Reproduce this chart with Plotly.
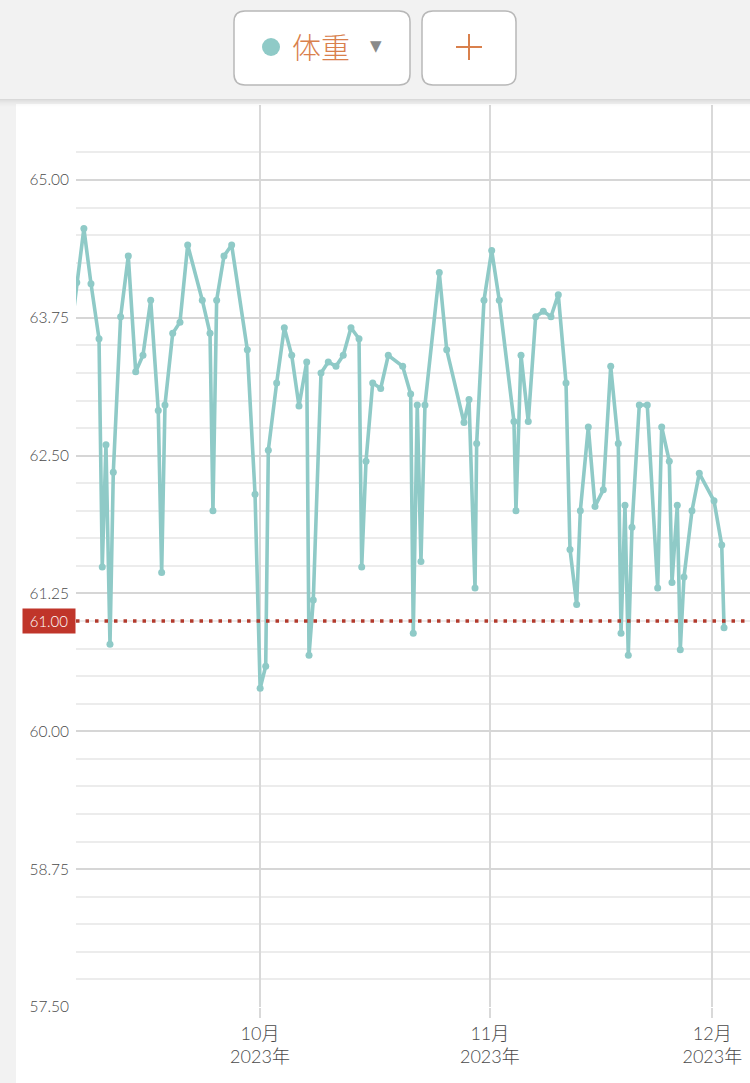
import plotly.graph_objects as go

# ---- data ----
times = [
    "2023-09-05 07:00",
    "2023-09-06 07:00", "2023-09-07 06:00", "2023-09-08 05:00", "2023-09-09 07:00",
    "2023-09-09 17:30", "2023-09-10 05:30", "2023-09-10 18:30", "2023-09-11 05:15",
    "2023-09-12 05:00", "2023-09-13 05:45", "2023-09-14 05:45", "2023-09-15 05:15",
    "2023-09-16 06:15", "2023-09-17 06:45", "2023-09-17 17:45", "2023-09-18 04:30",
    "2023-09-19 05:30", "2023-09-20 05:00", "2023-09-21 06:00", "2023-09-23 05:15",
    "2023-09-24 06:15", "2023-09-24 15:45", "2023-09-25 03:45", "2023-09-26 03:30",
    "2023-09-27 04:20", "2023-09-29 07:00", "2023-09-30 08:00", "2023-10-01 00:30",
    "2023-10-01 18:30", "2023-10-02 03:00",
    "2023-10-03 06:00", "2023-10-04 06:45", "2023-10-05 06:45", "2023-10-06 06:15",
    "2023-10-07 07:15", "2023-10-07 14:40", "2023-10-08 04:30", "2023-10-09 05:30",
    "2023-10-10 05:00", "2023-10-11 06:00", "2023-10-12 05:30", "2023-10-13 06:30",
    "2023-10-14 08:30", "2023-10-14 17:15", "2023-10-15 07:10", "2023-10-16 04:50",
    "2023-10-17 06:40", "2023-10-18 07:15", "2023-10-20 05:50", "2023-10-21 07:40",
    "2023-10-21 16:05", "2023-10-22 05:00", "2023-10-22 17:00", "2023-10-23 06:00",
    "2023-10-25 04:20", "2023-10-26 04:20", "2023-10-28 12:15", "2023-10-29 04:30",
    "2023-10-30 00:00", "2023-10-30 05:20", "2023-10-31 05:00", "2023-11-01 06:00",
    "2023-11-02 06:30",
    "2023-11-04 06:00", "2023-11-04 12:30", "2023-11-05 04:50", "2023-11-06 04:20",
    "2023-11-07 04:20", "2023-11-08 05:00", "2023-11-09 05:50", "2023-11-10 05:30",
    "2023-11-11 06:30", "2023-11-11 19:25", "2023-11-12 17:00", "2023-11-13 04:50",
    "2023-11-14 06:40", "2023-11-15 04:20", "2023-11-16 07:10", "2023-11-17 07:10",
    "2023-11-18 07:40", "2023-11-18 16:30", "2023-11-19 05:20", "2023-11-19 16:00",
    "2023-11-20 04:00", "2023-11-21 03:40", "2023-11-22 05:30", "2023-11-23 15:10",
    "2023-11-24 04:10", "2023-11-25 04:50", "2023-11-25 13:30", "2023-11-26 06:40",
    "2023-11-26 16:20", "2023-11-27 04:20", "2023-11-28 06:15", "2023-11-29 05:50",
    "2023-12-01 05:30", "2023-12-02 06:30", "2023-12-02 14:00",
]
weights = [
    63.50,
    64.07, 64.56, 64.06, 63.56,
    61.49, 62.60, 60.79, 62.35,
    63.76, 64.31, 63.26, 63.41,
    63.91, 62.91, 61.44, 62.96,
    63.61, 63.71, 64.41, 63.91,
    63.61, 62.00, 63.91, 64.31,
    64.41, 63.46, 62.15, 60.39,
    60.59, 62.55,
    63.16, 63.66, 63.41, 62.95,
    63.35, 60.69, 61.19, 63.25,
    63.35, 63.31, 63.41, 63.66,
    63.56, 61.49, 62.45, 63.16,
    63.11, 63.41, 63.31, 63.06,
    60.89, 62.96, 61.54, 62.96,
    64.16, 63.46, 62.80, 63.01,
    61.30, 62.61, 63.91, 64.36,
    63.91,
    62.81, 62.00, 63.41, 62.81,
    63.76, 63.81, 63.76, 63.96,
    63.16, 61.65, 61.15, 62.00,
    62.76, 62.04, 62.19, 63.31,
    62.61, 60.89, 62.05, 60.69,
    61.85, 62.96, 62.96, 61.30,
    62.76, 62.45, 61.35, 62.05,
    60.74, 61.40, 62.00, 62.34,
    62.09, 61.69, 60.94,
]
goal = 61.00
y_ticks = [57.5, 58.75, 60.0, 61.25, 62.5, 63.75, 65.0]
y_minor = [57.75, 58.0, 58.25, 58.5, 59.0, 59.25, 59.5, 59.75, 60.25, 60.5, 60.75, 61.0,
           61.5, 61.75, 62.0, 62.25, 62.75, 63.0, 63.25, 63.5, 64.0, 64.25, 64.5, 64.75, 65.25]
x_ticks = ["2023-10-01", "2023-11-01", "2023-12-01"]
x_ticktext = ["10月<br>2023年", "11月<br>2023年", "12月<br>2023年"]
x_range = ["2023-09-06 04:30", "2023-12-06 02:00"]
y_range = [57.5, 65.68]

# ---- layout geometry (pixels) ----
W, H = 750, 1083
L, R, T, B = 76, 0, 105, 76
PW, PH = W - L - R, H - T - B


def X(px):
    return (px - L) / PW


def Y(py):
    return (H - B - py) / PH


def rrect(x0, y0, x1, y1, r):
    pts = [
        ("M", [(x0 + r, y0)]), ("L", [(x1 - r, y0)]), ("Q", [(x1, y0), (x1, y0 + r)]),
        ("L", [(x1, y1 - r)]), ("Q", [(x1, y1), (x1 - r, y1)]), ("L", [(x0 + r, y1)]),
        ("Q", [(x0, y1), (x0, y1 - r)]), ("L", [(x0, y0 + r)]), ("Q", [(x0, y0), (x0 + r, y0)]),
    ]
    s = ""
    for cmd, ps in pts:
        s += cmd + " " + " ".join(f"{X(a):.5f},{Y(b):.5f}" for a, b in ps) + " "
    return s + "Z"


TEAL = "#8fcac7"
ORANGE = "#d9804c"
RED = "#b23a2c"
NUMFONT = "Lato, Noto Sans CJK JP"

fig = go.Figure()
fig.add_trace(go.Scatter(
    x=times, y=weights, mode="lines+markers",
    line=dict(color=TEAL, width=3.6),
    marker=dict(color=TEAL, size=7),
    hoverinfo="x+y", showlegend=False,
))

shapes = []
# white panel
shapes.append(dict(type="rect", xref="paper", yref="paper", x0=X(16), x1=X(W + 5),
                   y0=Y(H + 5), y1=Y(104), fillcolor="white", line=dict(width=0), layer="below"))
# shadow under top bar
for i, a in enumerate([0.10, 0.075, 0.055, 0.04, 0.028, 0.018, 0.01, 0.005]):
    shapes.append(dict(type="rect", xref="paper", yref="paper", x0=X(-5), x1=X(W + 5),
                       y0=Y(99 + i + 1), y1=Y(99 + i), fillcolor=f"rgba(0,0,0,{a})",
                       line=dict(width=0), layer="above"))
# top bar
shapes.append(dict(type="rect", xref="paper", yref="paper", x0=X(-5), x1=X(W + 5),
                   y0=Y(99), y1=Y(-5), fillcolor="#f2f2f2", line=dict(width=0), layer="above"))
# buttons
shapes.append(dict(type="path", xref="paper", yref="paper", path=rrect(234, 11, 410, 85, 11),
                   fillcolor="white", line=dict(color="#b8b8b8", width=1.5), layer="above"))
shapes.append(dict(type="path", xref="paper", yref="paper", path=rrect(422, 11, 516, 85, 11),
                   fillcolor="white", line=dict(color="#b8b8b8", width=1.5), layer="above"))
# teal dot
shapes.append(dict(type="circle", xref="paper", yref="paper", x0=X(262), x1=X(280),
                   y0=Y(56), y1=Y(38), fillcolor=TEAL, line=dict(width=0), layer="above"))
# plus sign
shapes.append(dict(type="line", xref="paper", yref="paper", x0=X(456), x1=X(482),
                   y0=Y(47), y1=Y(47), line=dict(color=ORANGE, width=2), layer="above"))
shapes.append(dict(type="line", xref="paper", yref="paper", x0=X(469), x1=X(469),
                   y0=Y(34), y1=Y(60), line=dict(color=ORANGE, width=2), layer="above"))
# goal line
shapes.append(dict(type="line", xref="paper", yref="y", x0=0, x1=1, y0=goal, y1=goal,
                   line=dict(color=RED, width=3.5, dash="3.5px,6px"), layer="above"))

annotations = [
    dict(xref="paper", yref="paper", x=X(321), y=Y(46), text="体重", showarrow=False,
         font=dict(family="Noto Sans CJK JP", size=29, color=ORANGE, weight=300),
         xanchor="center", yanchor="middle"),
    dict(xref="paper", yref="paper", x=X(376), y=Y(46), text="▼", showarrow=False,
         font=dict(family="DejaVu Sans", size=15, color="#8a8a8a"), xanchor="center", yanchor="middle"),
    dict(xref="paper", yref="y", x=0, y=goal, text=f"{goal:.2f}", showarrow=False,
         xanchor="right", yanchor="middle", width=52, height=24, bgcolor="#c0352a",
         borderpad=0, font=dict(family=NUMFONT, size=15, color="white", weight=300)),
]

fig.update_layout(
    width=W, height=H,
    margin=dict(l=L, r=R, t=T, b=B, pad=0),
    paper_bgcolor="#f2f2f2",
    plot_bgcolor="white",
    shapes=shapes,
    annotations=annotations,
    showlegend=False,
    xaxis=dict(
        type="date", range=x_range,
        tickvals=x_ticks, ticktext=x_ticktext,
        showgrid=True, gridcolor="#d9d9d9", gridwidth=2,
        ticks="outside", ticklen=10, tickwidth=2, tickcolor="#d9d9d9",
        tickfont=dict(family=NUMFONT, size=18, color="#4a4a4a", weight=300),
        zeroline=False, showline=False, fixedrange=True,
    ),
    yaxis=dict(
        range=y_range,
        tickvals=y_ticks, ticktext=[f"{v:.2f}" for v in y_ticks],
        showgrid=True, gridcolor="#d6d6d6", gridwidth=2,
        minor=dict(tickvals=y_minor, showgrid=True, gridcolor="#ececec", gridwidth=2, ticks=""),
        ticks="", ticklabelstandoff=6,
        tickfont=dict(family=NUMFONT, size=15.5, color="#4a4a4a", weight=300),
        zeroline=False, showline=False, fixedrange=True,
    ),
)

fig.write_html(
    "out.html",
    config={"displayModeBar": False},
    post_script="document.body.style.margin='0';document.body.style.overflow='hidden';",
)
